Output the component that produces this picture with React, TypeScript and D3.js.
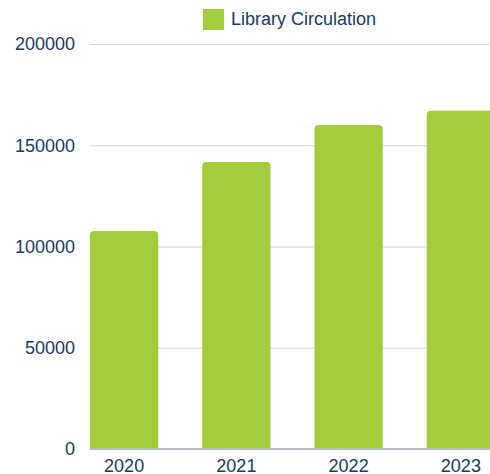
import React from "react";
import * as d3 from "d3";

const categories = ["2020", "2021", "2022", "2023"];
const circulation = [107600, 141700, 160000, 167000];
const yTicks = [0, 50000, 100000, 150000, 200000];
const seriesName = "Library Circulation";

const W = 490;
const H = 474;
const left = 90;
const top = 44;
const bottom = 449;

export default function App() {
  const x = d3
    .scaleBand<string>()
    .domain(categories)
    .range([left, 495])
    .paddingInner(0.392)
    .paddingOuter(0);
  const y = d3.scaleLinear().domain([0, 200000]).range([bottom, top]);
  const r = 4;
  const color = "#a2cc3d";
  const textColor = "#1d3a5f";
  const font = "Liberation Sans, Arial, sans-serif";

  const barPath = (x0: number, y0: number, w: number, h: number) => {
    const p = d3.path();
    p.moveTo(x0, y0 + h);
    p.lineTo(x0, y0 + r);
    p.quadraticCurveTo(x0, y0, x0 + r, y0);
    p.lineTo(x0 + w - r, y0);
    p.quadraticCurveTo(x0 + w, y0, x0 + w, y0 + r);
    p.lineTo(x0 + w, y0 + h);
    p.closePath();
    return p.toString();
  };

  return (
    <svg
      width={W}
      height={H}
      style={{ position: "absolute", left: 0, top: 0, display: "block" }}
    >
      <rect x={0} y={0} width={W} height={H} fill="#ffffff" />
      {yTicks.map((t) =>
        t === 0 ? null : (
          <line
            key={t}
            x1={left}
            x2={W}
            y1={y(t) + 0.5}
            y2={y(t) + 0.5}
            stroke="#ccd4de"
            strokeWidth={1}
          />
        )
      )}
      {yTicks.map((t) => (
        <text
          key={"l" + t}
          x={75}
          y={y(t)}
          dy="0.35em"
          textAnchor="end"
          fontFamily={font}
          fontSize={18}
          fill={textColor}
        >
          {t}
        </text>
      ))}
      {categories.map((c, i) => (
        <path
          key={c}
          d={barPath(x(c)!, y(circulation[i]), x.bandwidth(), bottom - y(circulation[i]))}
          fill={color}
        />
      ))}
      <line
        x1={left}
        x2={W}
        y1={bottom}
        y2={bottom}
        stroke="#b3c0cc"
        strokeWidth={2}
      />
      {categories.map((c) => (
        <text
          key={"x" + c}
          x={x(c)! + x.bandwidth() / 2}
          y={471.5}
          textAnchor="middle"
          fontFamily={font}
          fontSize={18}
          fill={textColor}
        >
          {c}
        </text>
      ))}
      <rect x={203} y={9} width={21} height={21} fill={color} />
      <text x={231} y={25} fontFamily={font} fontSize={18} fill={textColor}>
        {seriesName}
      </text>
    </svg>
  );
}
